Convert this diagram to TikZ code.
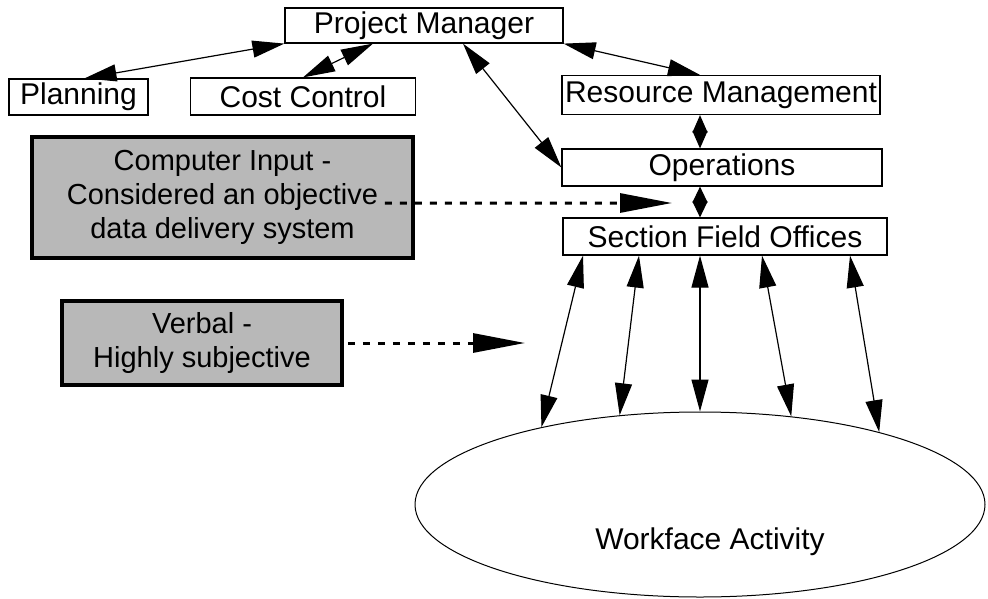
\documentclass[tikz,border=0pt]{standalone}
\usepackage{fontspec}
\setmainfont{Liberation Sans}
\usetikzlibrary{arrows.meta,shapes.geometric}

\begin{document}
\begin{tikzpicture}[
  box/.style={draw,line width=1.2bp,inner sep=0pt,font=\fontsize{30bp}{34bp}\selectfont},
  greybox/.style={draw,line width=3.5bp,fill=black!28,inner sep=0pt,align=center,font=\fontsize{29bp}{34bp}\selectfont},
  link/.style={line width=1.2bp,{Triangle[length=32bp,width=17bp]}-{Triangle[length=32bp,width=17bp]}},
  hinge/.style={line width=1.2bp,{Triangle[length=#1,width=15bp]}-{Triangle[length=#1,width=15bp]}},
  feed/.style={line width=3bp,dash pattern=on 7bp off 8bp,-{Triangle[length=52bp,width=19bp]}}
]
\useasboundingbox (0bp,0bp) rectangle (988bp,-599bp);

% boxes
\node (pm) at (424bp,-25.5bp)[box,minimum width=278bp,minimum height=35bp] {Project Manager};
\node (plan) at (78.5bp,-97bp)[box,minimum width=139bp,minimum height=36bp] {Planning};
\node (cc) at (303bp,-96.5bp)[box,minimum width=225bp,minimum height=37bp] {Cost Control};
\node (rm) at (721bp,-95bp)[box,minimum width=318bp,minimum height=39bp] {Resource Management};
\node (ops) at (722bp,-167.5bp)[box,minimum width=320bp,minimum height=37bp] {Operations};
\node (sfo) at (725bp,-236.5bp)[box,minimum width=324bp,minimum height=37bp] {Section Field Offices};
\node (ci) at (222.5bp,-197.5bp)[greybox,minimum width=381bp,minimum height=121bp] {Computer Input -\\Considered an objective\\data delivery system};
\node (vb) at (202bp,-343bp)[greybox,minimum width=280bp,minimum height=84bp] {Verbal -\\Highly subjective};
\node (wf) at (700bp,-504.5bp)[draw,ellipse,line width=1bp,inner sep=0pt,minimum width=570bp,minimum height=185bp] {};
\node (wftext) at ([xshift=10bp,yshift=-37bp]wf.center)[font=\fontsize{30bp}{34bp}\selectfont] {Workface Activity};

\coordinate (cistart) at ([xshift=-30bp,yshift=-5.5bp]ci.east);
\coordinate (citip) at (672bp,-203bp);
\coordinate (vbtip) at (525bp,-343bp);

% management links
\draw [link] ([xshift=6bp]plan.north) to (pm.south west);
\draw [link] (cc.north) to ([xshift=-51bp]pm.south);
\draw [link] (pm.south east) to ([xshift=-21bp]rm.north);
\draw [link] ([xshift=39bp]pm.south) to (ops.west);
\draw [hinge=17.5bp] (rm.south -| wf.north) to (ops.north -| wf.north);
\draw [hinge=16bp] (ops.south -| wf.north) to (sfo.north -| wf.north);

% field offices to workface
\draw [link] ([xshift=-142bp]sfo.south) to (wf.154.6);
\draw [link] ([xshift=-86bp]sfo.south) to (wf.132.5);
\draw [link] ([xshift=-25bp]sfo.south) to (wf.north);
\draw [link] ([xshift=37bp]sfo.south) to (wf.44.2);
\draw [link] ([xshift=125bp]sfo.south) to (wf.22.6);

% information flow
\draw [feed] (cistart) to (citip);
\draw [feed] ([xshift=4bp]vb.east) to (vbtip);
\end{tikzpicture}
\end{document}
